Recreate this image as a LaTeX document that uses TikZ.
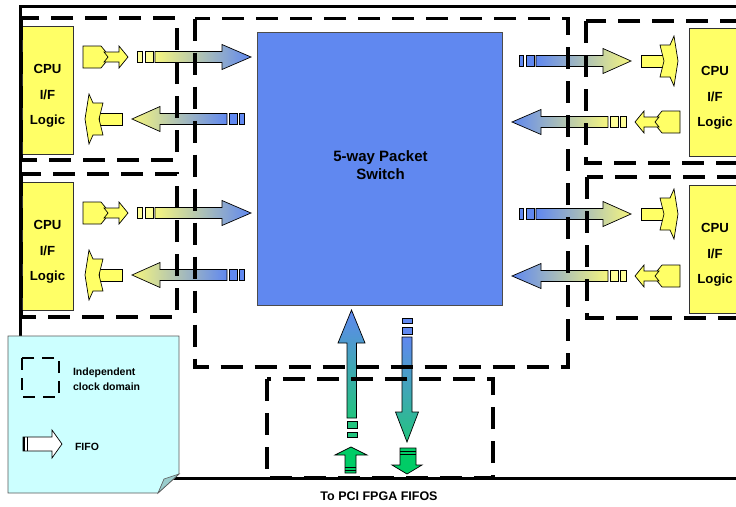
\documentclass[tikz,border=0pt]{standalone}
\usepackage{fontspec}
\setmainfont{Liberation Sans}
\definecolor{cpuyel}{HTML}{FFFF66}
\definecolor{paleyel}{HTML}{FFFF99}
\definecolor{linkyel}{HTML}{F6F67E}
\definecolor{linkmid}{HTML}{DCE0D6}
\definecolor{swblue}{HTML}{6088F0}
\definecolor{pcigreen}{HTML}{00CC66}
\definecolor{tealgreen}{HTML}{22C47E}
\definecolor{notecyan}{HTML}{CCFFFF}
\definecolor{notefold}{HTML}{99CCCC}

% FIFO push row: pusher, FIFO slots and link arrow.
% #1 origin x, #2 direction (1 or -1), #3 centre y, #4/#5 shading colours
\newcommand\sendrow[5]{%
  \def\O{#1}\def\D{#2}\def\Y{#3}%
  \path[yelshape] ({\O+\D*83},\Y-11) -- ({\O+\D*101},\Y-11) -- ({\O+\D*110},\Y)
     -- ({\O+\D*101},\Y+11) -- ({\O+\D*83},\Y+11) -- cycle;
  \path[yelshape] ({\O+\D*104},\Y-5) -- ({\O+\D*119},\Y-5) -- ({\O+\D*119},\Y-11)
     -- ({\O+\D*128},\Y) -- ({\O+\D*119},\Y+11) -- ({\O+\D*119},\Y+5)
     -- ({\O+\D*104},\Y+5) -- ({\O+\D*108},\Y) -- cycle;
  \path[fifoslot, fill=paleyel] ({\O+\D*137},\Y-5.5) rectangle ({\O+\D*142.5},\Y+5.5);
  \path[fifoslot, fill=paleyel] ({\O+\D*145},\Y-5.5) rectangle ({\O+\D*153},\Y+5.5);
  \path[linkarrow, left color=#4, middle color=linkmid, right color=#5]
     ({\O+\D*155},\Y-5.5) -- ({\O+\D*222},\Y-5.5) -- ({\O+\D*222},\Y-12.5)
     -- ({\O+\D*251},\Y) -- ({\O+\D*222},\Y+12.5) -- ({\O+\D*222},\Y+5.5)
     -- ({\O+\D*155},\Y+5.5) -- cycle;
}
% FIFO pop row: link arrow, FIFO slots and receiver.
\newcommand\recvrow[5]{%
  \def\O{#1}\def\D{#2}\def\Y{#3}%
  \path[yelshape] ({\O+\D*99},\Y-6) rectangle ({\O+\D*122},\Y+6);
  \path[yelshape] ({\O+\D*85},\Y) -- ({\O+\D*89},\Y-25) -- ({\O+\D*93},\Y-16)
     -- ({\O+\D*103},\Y-16) -- ({\O+\D*99},\Y) -- ({\O+\D*103},\Y+16)
     -- ({\O+\D*93},\Y+16) -- ({\O+\D*89},\Y+25) -- cycle;
  \path[linkarrow, left color=#4, middle color=linkmid, right color=#5]
     ({\O+\D*132},\Y) -- ({\O+\D*160},\Y-12.5) -- ({\O+\D*160},\Y-5.5)
     -- ({\O+\D*227},\Y-5.5) -- ({\O+\D*227},\Y+5.5) -- ({\O+\D*160},\Y+5.5)
     -- ({\O+\D*160},\Y+12.5) -- cycle;
  \path[fifoslot, fill=swblue] ({\O+\D*229},\Y-5.5) rectangle ({\O+\D*237},\Y+5.5);
  \path[fifoslot, fill=swblue] ({\O+\D*239.5},\Y-5.5) rectangle ({\O+\D*244},\Y+5.5);
}

\begin{document}
\begin{tikzpicture}[x=1pt, y=-1pt,
  clockdomain/.style={line width=3.4pt, dash pattern=on 22pt off 12pt},
  legdomain/.style={line width=2.6pt, dash pattern=on 12pt off 8pt},
  cpubox/.style={fill=cpuyel, draw=black!80, line width=0.8pt},
  yelshape/.style={fill=cpuyel, draw=black, line width=0.7pt},
  fifoslot/.style={draw=black, line width=0.7pt},
  linkarrow/.style={draw=black, line width=0.7pt},
  greenfifo/.style={fill=pcigreen, draw=black, line width=0.7pt},
  cputext/.style={anchor=base, font=\fontsize{13.2}{15}\selectfont\bfseries},
  swtext/.style={anchor=base, font=\fontsize{15}{18}\selectfont\bfseries},
  legtext/.style={anchor=base west, font=\fontsize{10.5}{13}\selectfont\bfseries},
  pcitext/.style={anchor=base, font=\fontsize{12.5}{15}\selectfont\bfseries},
  inner sep=0pt, outer sep=0pt]
\useasboundingbox (0,0) rectangle (736,506);
\clip (0,0) rectangle (736,506);

% board outline
\draw[line width=3pt] (20,6) rectangle (760,478);

% packet switch
\node[fill=swblue, draw=black!70, line width=0.8pt, minimum width=245pt,
      minimum height=273pt] (switch) at (379.5,168.5) {};

% CPU interface blocks
\node[cpubox, minimum width=51pt, minimum height=128pt] (cpuLT) at (47.5,90) {};
\node[cpubox, minimum width=51pt, minimum height=128pt] (cpuLB) at (47.5,246) {};
\node[cpubox, minimum width=56pt, minimum height=128pt] (cpuRT) at (717,92) {};
\node[cpubox, minimum width=56pt, minimum height=128pt] (cpuRB) at (717,249) {};

% FIFO links between CPU blocks and switch
\sendrow{0}{1}{57}{linkyel}{swblue}
\recvrow{0}{1}{119}{linkyel}{swblue}
\sendrow{0}{1}{213}{linkyel}{swblue}
\recvrow{0}{1}{275}{linkyel}{swblue}
\recvrow{763}{-1}{61}{swblue}{linkyel}
\sendrow{763}{-1}{122}{swblue}{linkyel}
\recvrow{763}{-1}{214}{swblue}{linkyel}
\sendrow{763}{-1}{276}{swblue}{linkyel}

% PCI links
\path[linkarrow, top color=swblue, bottom color=tealgreen]
  (351.5,310) -- (365,343) -- (356.5,343) -- (356.5,418) -- (347,418)
  -- (347,343) -- (338,343) -- cycle;
\path[fifoslot, fill=tealgreen] (347,421) rectangle (357,428);
\path[fifoslot, fill=tealgreen] (347,432) rectangle (357,437);
\path[fifoslot, fill=swblue] (402,318) rectangle (412,323);
\path[fifoslot, fill=swblue] (402,327) rectangle (412,334);
\path[linkarrow, top color=swblue, bottom color=tealgreen]
  (402,337) -- (412,337) -- (412,412) -- (418.5,412) -- (407,442)
  -- (395.5,412) -- (402,412) -- cycle;
\path[greenfifo] (351,447) -- (367,455) -- (356,455) -- (356,473) -- (345,473)
  -- (345,455) -- (335,455) -- cycle;
\draw[line width=1.2pt] (345,467.5) -- (356,467.5) (345,470.5) -- (356,470.5);
\path[greenfifo] (400,448) -- (416,448) -- (416,465) -- (422,465) -- (407,474)
  -- (392,465) -- (400,465) -- cycle;
\draw[line width=1.2pt] (400,451.5) -- (416,451.5) (400,454.5) -- (416,454.5);

% clock domains
\draw[clockdomain] (21,18) rectangle (177,160);
\draw[clockdomain] (21,174) rectangle (177,317);
\draw[clockdomain] (195,18.5) rectangle (568,367);
\draw[clockdomain] (586,21) rectangle (760,163);
\draw[clockdomain] (587,177) rectangle (760,318);
\draw[clockdomain] (267,379) rectangle (493,478);

% legend note
\path[fill=notecyan, draw=black!65, line width=0.8pt]
  (8,336) -- (179,336) -- (179,474) -- (158,493) -- (8,493) -- cycle;
\path[fill=notefold, draw=black!65, line width=0.6pt]
  (179,474) -- (164,479) -- (158,493) -- cycle;
\draw[legdomain] (22,358) rectangle (59,397);
\path[draw=black, fill=white, line width=0.7pt]
  (23,437) -- (52,437) -- (52,430) -- (62,444) -- (52,458) -- (52,451)
  -- (23,451) -- cycle;
\draw[line width=1.4pt] (24,437) -- (24,451);
\draw[line width=0.7pt] (27,437) -- (27,451);

% labels
\node[swtext] (swA) at (380.5,161) {5-way Packet};
\node[swtext] (swB) at (380.5,179) {Switch};
\foreach \nm/\cx/\ty in {LT/47.5/26, LB/47.5/182, RT/715/28, RB/715/185}{
  \node[cputext] (t\nm a) at (\cx,\ty+47) {CPU};
  \node[cputext] (t\nm b) at (\cx,\ty+73) {I/F};
  \node[cputext] (t\nm c) at (\cx,\ty+98) {Logic};
}
\node[legtext] (legA) at (73,375) {Independent};
\node[legtext] (legB) at (73,390) {clock domain};
\node[legtext] (legC) at (75,450) {FIFO};
\node[pcitext] (pci) at (379,500) {To PCI FPGA FIFOS};
\end{tikzpicture}
\end{document}
